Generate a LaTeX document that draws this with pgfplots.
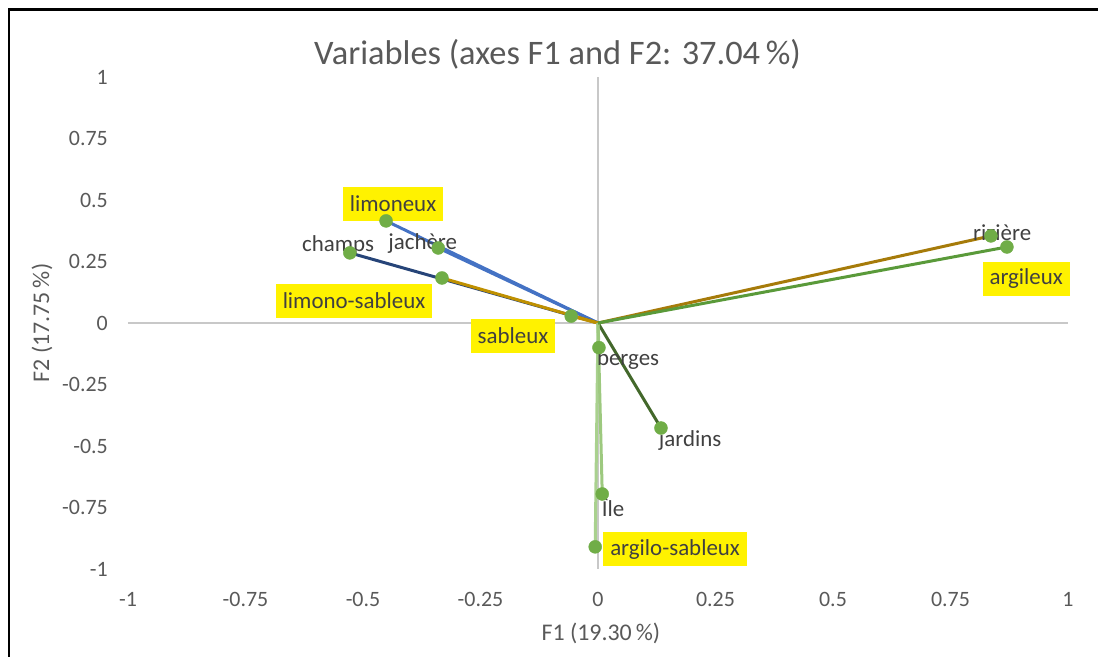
\documentclass[border=0pt]{standalone}
\usepackage{fontspec}
\setmainfont{Carlito}
\usepackage{pgfplots}
\pgfplotsset{compat=1.18}
\definecolor{txt}{HTML}{595959}
\definecolor{lab}{HTML}{404040}
\definecolor{zl}{HTML}{C8C8C8}
\definecolor{mk}{HTML}{70AD47}
\definecolor{cblue}{HTML}{4472C4}
\definecolor{cnavy}{HTML}{264478}
\definecolor{cgold}{HTML}{BF9000}
\definecolor{cdgold}{HTML}{A67B0A}
\definecolor{cdgreen}{HTML}{43682B}
\definecolor{cgreen}{HTML}{5A9A3A}
\definecolor{clgreen}{HTML}{A9D18E}
\definecolor{clgreen2}{HTML}{9DC97F}
\begin{document}
\begin{tikzpicture}[x=1bp,y=1bp]
\path[use as bounding box] (-128,-88) rectangle (970,569);
\draw[black, line width=2.5bp] (-119,-100) -- (-119,559.5) -- (1000,559.5);
\begin{axis}[at={(0,0)}, anchor=south west, scale only axis,
  width=940bp, height=492bp,
  xmin=-1, xmax=1, ymin=-1, ymax=1,
  axis line style={draw=none}, major tick length=0pt,
  xtick={-1,-0.75,-0.5,-0.25,0,0.25,0.5,0.75,1},
  xticklabels={-1,-0.75,-0.5,-0.25,0,0.25,0.5,0.75,1},
  ytick={-1,-0.75,-0.5,-0.25,0,0.25,0.5,0.75,1},
  yticklabels={-1,-0.75,-0.5,-0.25,0,0.25,0.5,0.75,1},
  tick label style={font=\fontsize{22}{26}\selectfont, text=txt},
  xticklabel style={anchor=center, yshift=-30bp},
  yticklabel style={anchor=east, inner sep=0pt, xshift=-20bp},
  xlabel={F1 (19.30\,\%)}, ylabel={F2 (17.75\,\%)},
  label style={font=\fontsize{24}{28}\selectfont, text=txt},
  xlabel style={at={(axis description cs:0.503,-0.130)}, anchor=center},
  ylabel style={at={(axis description cs:-0.0915,0.5)}, anchor=center},
  title={Variables (axes F1 and F2: 37.04\,\%)},
  title style={font=\fontsize{34.5}{40}\selectfont, text=txt, at={(axis description cs:0.457,1.0346)}, anchor=center},
  clip=false]
\addplot[zl, line width=1.6bp] coordinates {(-1,0) (1,0)};
\addplot[zl, line width=1.6bp] coordinates {(0,-1) (0,1)};
% vectors
\addplot[cblue, line width=3bp] coordinates {(0,0) (-0.340,0.305)};   % jachere
\addplot[cblue, line width=3bp] coordinates {(0,0) (-0.451,0.415)};   % limoneux
\addplot[cnavy, line width=3bp] coordinates {(0,0) (-0.528,0.285)};   % champs
\addplot[cgold, line width=3bp] coordinates {(0,0) (-0.332,0.183)};   % limono-sableux
\addplot[cgold, line width=3bp] coordinates {(0,0) (-0.057,0.028)};   % sableux
\addplot[clgreen, line width=3bp] coordinates {(0,0) (0.002,-0.100)};  % berges
\addplot[cdgreen, line width=3bp] coordinates {(0,0) (0.134,-0.427)};  % jardins
\addplot[clgreen, line width=3bp] coordinates {(0,0) (-0.006,-0.910)}; % argilo-sableux
\addplot[clgreen2, line width=3bp] coordinates {(0,0) (0.009,-0.695)}; % Ile
\addplot[cdgold, line width=3bp] coordinates {(0,0) (0.836,0.354)};   % riziere
\addplot[cgreen, line width=3bp] coordinates {(0,0) (0.870,0.309)};   % argileux
% markers
\addplot[only marks, mark=*, mark size=6.5bp, mark options={fill=mk, draw=mk}] coordinates {
 (-0.340,0.305) (-0.451,0.415) (-0.528,0.285) (-0.332,0.183) (-0.057,0.028)
 (0.002,-0.100) (0.134,-0.427) (-0.006,-0.910) (0.009,-0.695)
 (0.836,0.354) (0.870,0.309)};
% labels
\tikzset{hl/.style={fill=yellow, text=lab, inner xsep=7bp, inner ysep=0pt, minimum height=34bp, font=\fontsize{23}{27}\selectfont},
         pl/.style={text=lab, inner sep=0pt, font=\fontsize{23}{27}\selectfont}}
\node[hl] at (axis cs:-0.436,0.484) {limoneux};
\node[hl] at (axis cs:-0.519,0.089) {limono-sableux};
\node[hl] at (axis cs:-0.181,-0.053) {sableux};
\node[hl] at (axis cs:0.164,-0.919) {argilo-sableux};
\node[hl] at (axis cs:0.911,0.179) {argileux};
\node[pl] at (axis cs:-0.553,0.317) {champs};
\node[pl] at (axis cs:-0.373,0.325) {jachère};
\node[pl] at (axis cs:0.064,-0.150) {berges};
\node[pl] at (axis cs:0.196,-0.476) {jardins};
\node[pl] at (axis cs:0.032,-0.748) {Île};
\node[pl] at (axis cs:0.860,0.366) {rizière};
\end{axis}
\end{tikzpicture}
\end{document}
